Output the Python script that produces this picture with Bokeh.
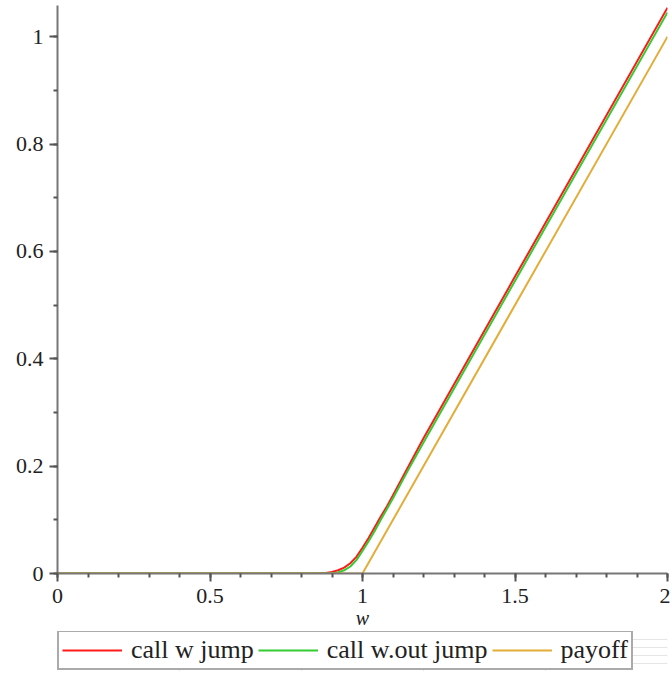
from bokeh.plotting import figure
from bokeh.models import Legend, LegendItem, Range1d, FixedTicker
from bokeh.layouts import column
from bokeh.embed import file_html
from bokeh.resources import INLINE

# ---- data ----
w_vals = [0, 0.85, 0.88, 0.90, 0.92, 0.94, 0.96, 0.98, 1.00, 1.02, 1.04, 1.06, 1.08, 1.10, 1.15, 1.20, 1.50, 2.00]
call_jump = [0, 0, 0.001, 0.003, 0.006, 0.011, 0.019, 0.031, 0.048, 0.066, 0.086, 0.106, 0.125, 0.146, 0.199, 0.252, 0.553, 1.054]
call_nojump = [0, 0, 0, 0.0005, 0.002, 0.006, 0.013, 0.025, 0.042, 0.060, 0.079, 0.100, 0.120, 0.140, 0.193, 0.244, 0.545, 1.045]
payoff_w = [0, 1, 2]
payoff_v = [0, 0, 1]

series_names = ["call w jump", "call w.out jump", "payoff"]
series_colors = ["#ff1a1a", "#33cc33", "#e3ad3a"]
x_ticks = [0, 0.5, 1, 1.5, 2]
x_tick_labels = ["0", "0.5", "1", "1.5", "2"]
y_ticks = [0, 0.2, 0.4, 0.6, 0.8, 1]
y_tick_labels = ["0", "0.2", "0.4", "0.6", "0.8", "1"]

SERIF = "Liberation Serif"

p = figure(frame_width=610, frame_height=568, output_backend="svg", toolbar_location=None,
           x_range=Range1d(0, 2), y_range=Range1d(0, 1.058),
           min_border_left=57, min_border_right=3, min_border_top=5, min_border_bottom=0)
p.outline_line_color = None
p.xgrid.visible = False
p.ygrid.visible = False
p.background_fill_color = "white"

p.line(w_vals, call_jump, line_color=series_colors[0], line_width=2)
p.line(w_vals, call_nojump, line_color=series_colors[1], line_width=2)
p.line(payoff_w, payoff_v, line_color=series_colors[2], line_width=2)

for ax in (p.xaxis[0], p.yaxis[0]):
    ax.axis_line_color = "#777777"
    ax.axis_line_width = 2
    ax.major_tick_line_color = "#555555"
    ax.minor_tick_line_color = "#555555"
    ax.major_tick_line_width = 2
    ax.minor_tick_line_width = 2
    ax.major_tick_in = 0
    ax.major_tick_out = 8
    ax.minor_tick_in = 0
    ax.minor_tick_out = 4
    ax.major_label_text_font = SERIF
    ax.major_label_text_font_size = "22px"
    ax.major_label_text_color = "#222222"
    ax.major_label_standoff = 6

p.xaxis.major_label_standoff = 7
p.xaxis.ticker = FixedTicker(ticks=x_ticks, minor_ticks=[i / 10 for i in range(21)])
p.yaxis.ticker = FixedTicker(ticks=y_ticks, minor_ticks=[i / 10 for i in range(11)])
p.xaxis.major_label_overrides = {t: l for t, l in zip(x_ticks, x_tick_labels)}
p.yaxis.major_label_overrides = {t: l for t, l in zip(y_ticks, y_tick_labels)}

p.xaxis.axis_label = "w"
p.xaxis.axis_label_text_font = SERIF
p.xaxis.axis_label_text_font_style = "italic"
p.xaxis.axis_label_text_font_size = "20px"
p.xaxis.axis_label_text_color = "#222222"
p.xaxis.axis_label_standoff = 1

# ---- legend strip below the axis (its lines lie outside its visible range) ----
p2 = figure(width=670, height=40, output_backend="svg", toolbar_location=None,
            x_range=Range1d(100, 200), y_range=Range1d(100, 200),
            x_axis_location=None, y_axis_location=None,
            min_border_left=0, min_border_right=0, min_border_top=0, min_border_bottom=0)
p2.outline_line_color = None
p2.background_fill_color = "white"
p2.border_fill_color = "white"

s1 = p2.line(w_vals, call_jump, line_color=series_colors[0], line_width=2)
s2 = p2.line(w_vals, call_nojump, line_color=series_colors[1], line_width=2)
s3 = p2.line(payoff_w, payoff_v, line_color=series_colors[2], line_width=2)
items = [LegendItem(label=n, renderers=[r]) for n, r in zip(series_names, (s1, s2, s3))]

legend = Legend(items=items, orientation="horizontal", location=(0, 1))
legend.label_text_font = SERIF
legend.label_text_font_size = "26px"
legend.label_text_color = "#222222"
legend.label_height = 20
legend.glyph_height = 20
legend.glyph_width = 60
legend.label_standoff = 9
legend.spacing = 4
legend.padding = 3
legend.margin = 0
legend.border_line_color = "#555555"
legend.border_line_width = 2
legend.background_fill_alpha = 1.0
p2.add_layout(legend, "center")

layout = column(p, p2, spacing=0)
open("out.html", "w").write(file_html(layout, INLINE))
